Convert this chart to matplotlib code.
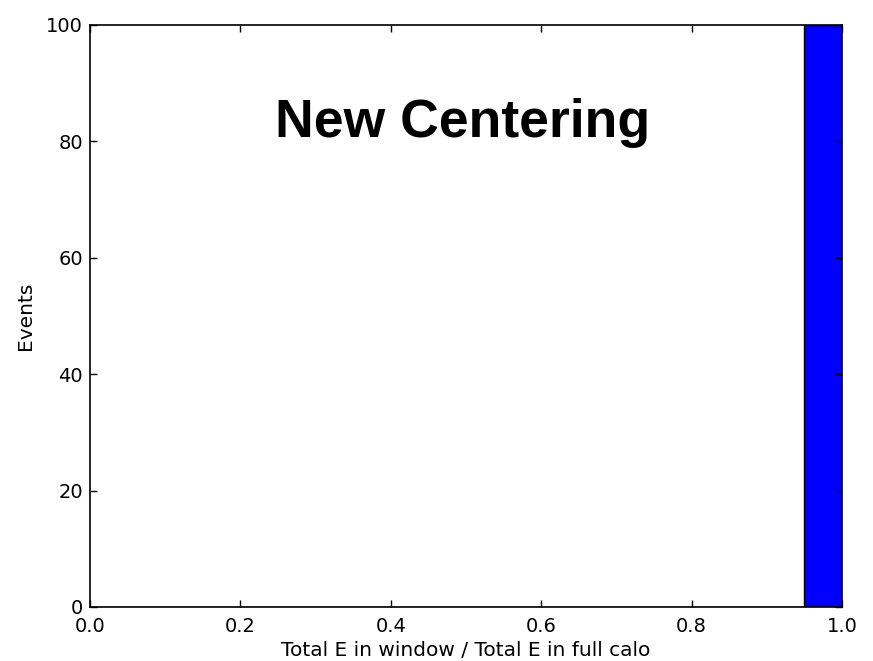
import matplotlib
matplotlib.use("Agg")
import matplotlib.pyplot as plt
import numpy as np

plt.rcParams['font.family'] = ['DejaVu Sans']

bin_edges = [0.0, 0.05, 0.1, 0.15, 0.2, 0.25, 0.3, 0.35, 0.4, 0.45, 0.5,
             0.55, 0.6, 0.65, 0.7, 0.75, 0.8, 0.85, 0.9, 0.95, 1.0]
counts = [0, 0, 0, 0, 0, 0, 0, 0, 0, 0, 0, 0, 0, 0, 0, 0, 0, 0, 0, 100]
xticks = [0.0, 0.2, 0.4, 0.6, 0.8, 1.0]
yticks = [0, 20, 40, 60, 80, 100]

fig = plt.figure(figsize=(8.73, 6.61), dpi=100)
ax = fig.add_axes([0.1031, 0.0817, 0.8614, 0.8805])

edges = np.array(bin_edges)
widths = np.diff(edges)
ax.bar(edges[:-1], counts, width=widths, align='edge', color='#0000ff',
       edgecolor='black', linewidth=1.0)

ax.set_xlim(0.0, 1.0)
ax.set_ylim(0, 100)
ax.set_xticks(xticks)
ax.set_xticklabels([f"{t:.1f}" for t in xticks])
ax.set_yticks(yticks)
ax.tick_params(direction='in', top=True, right=True, length=5, width=1,
               labelsize=14)
ax.tick_params(axis='x', pad=7)
ax.tick_params(axis='y', pad=5)
for s in ax.spines.values():
    s.set_linewidth(1.2)

ax.set_xlabel("Total E in window / Total E in full calo", fontsize=14.5, labelpad=4)
ax.set_ylabel("Events", fontsize=14.5, labelpad=8)

ax.text(0.495, 0.832, "New Centering", transform=ax.transAxes,
        ha='center', va='center', fontsize=38.5, fontweight='bold',
        family='Liberation Sans')

fig.savefig("out.png", dpi=100)
